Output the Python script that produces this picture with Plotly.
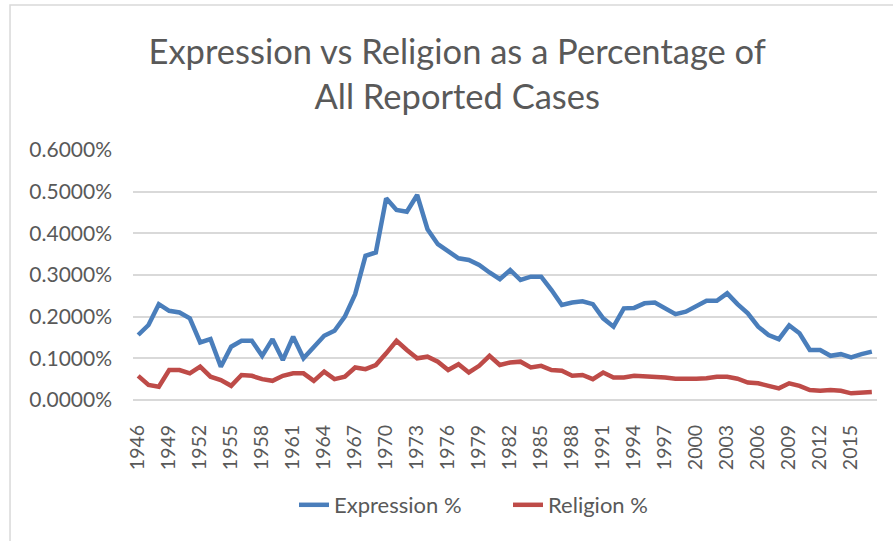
import plotly.graph_objects as go

years = list(range(1946, 2018))

expression_pct = [
    0.156, 0.180, 0.230, 0.214, 0.210, 0.196, 0.138, 0.146, 0.080, 0.128,
    0.142, 0.142, 0.106, 0.146, 0.096, 0.152, 0.100, 0.126, 0.154, 0.166,
    0.200, 0.254, 0.346, 0.354, 0.484, 0.456, 0.452, 0.492, 0.410, 0.374,
    0.356, 0.340, 0.336, 0.324, 0.306, 0.290, 0.312, 0.288, 0.296, 0.296,
    0.264, 0.228, 0.234, 0.237, 0.230, 0.196, 0.176, 0.220, 0.221, 0.232,
    0.234, 0.219, 0.206, 0.212, 0.226, 0.238, 0.238, 0.256, 0.230, 0.208,
    0.176, 0.156, 0.146, 0.179, 0.160, 0.120, 0.120, 0.106, 0.110, 0.102,
    0.110, 0.116,
]

religion_pct = [
    0.058, 0.036, 0.032, 0.072, 0.072, 0.064, 0.080, 0.056, 0.048, 0.034,
    0.060, 0.058, 0.050, 0.046, 0.058, 0.064, 0.064, 0.046, 0.068, 0.050,
    0.056, 0.078, 0.074, 0.084, 0.112, 0.142, 0.120, 0.100, 0.104, 0.092,
    0.072, 0.086, 0.066, 0.082, 0.106, 0.084, 0.090, 0.092, 0.078, 0.082,
    0.072, 0.070, 0.058, 0.060, 0.050, 0.066, 0.054, 0.054, 0.058, 0.057,
    0.057, 0.054, 0.051, 0.050, 0.051, 0.052, 0.056, 0.056, 0.051, 0.042,
    0.040, 0.034, 0.028, 0.040, 0.034, 0.024, 0.022, 0.024, 0.022, 0.016,
    0.018, 0.019,
]

x_tick_years = list(range(1946, 2016, 3))
y_ticks = [0.0, 0.1, 0.2, 0.3, 0.4, 0.5, 0.6]

FONT = "Lato"
GREY = "#595959"
GRID = "#d9d9d9"

fig = go.Figure()
fig.add_trace(go.Scatter(
    x=years, y=expression_pct, mode="lines", name="Expression %",
    line=dict(color="#4a7ebb", width=4.5),
))
fig.add_trace(go.Scatter(
    x=years, y=religion_pct, mode="lines", name="Religion %",
    line=dict(color="#be4b48", width=4.5),
))

fig.update_layout(
    width=893, height=541,
    margin=dict(l=133, r=16, t=150, b=141),
    paper_bgcolor="white", plot_bgcolor="white",
    font=dict(family=FONT, color=GREY, size=21),
    title=dict(
        text="Expression vs Religion as a Percentage of<br>All Reported Cases",
        x=0.512, xanchor="center", y=0.882, yanchor="middle",
        font=dict(family=FONT, size=34.5, color=GREY),
    ),
    xaxis=dict(
        range=[1945.5, 2017.5],
        tickmode="array", tickvals=x_tick_years,
        ticktext=[str(v) for v in x_tick_years],
        tickangle=-90, showgrid=False, zeroline=False,
        showline=False, ticks="", ticklabelstandoff=20,
        tickfont=dict(size=19.5, color=GREY), automargin=False,
    ),
    yaxis=dict(
        range=[0, 0.6], tickmode="array", tickvals=y_ticks,
        ticktext=[f"{v:.4f}%" for v in y_ticks],
        showgrid=True, gridcolor=GRID, gridwidth=1.5,
        zeroline=True, zerolinecolor=GRID, zerolinewidth=1.5,
        showline=False, ticks="", ticklabelstandoff=20,
        tickfont=dict(size=21, color=GREY), automargin=False,
    ),
    showlegend=True,
    legend=dict(
        orientation="h", x=0.2164, xanchor="left", y=-0.42, yanchor="middle",
        font=dict(size=22, color=GREY), bgcolor="rgba(0,0,0,0)",
        entrywidth=169, entrywidthmode="pixels",
    ),
    shapes=[dict(
        type="rect", xref="paper", yref="paper",
        x0=-0.1653, x1=1.03, y0=-0.6, y1=1.58,
        line=dict(color=GRID, width=1.5), fillcolor="rgba(0,0,0,0)",
        layer="below",
    )],
)

fig.write_html(
    "out.html",
    config={"displayModeBar": False},
    post_script="document.body.style.margin='0px';",
)
